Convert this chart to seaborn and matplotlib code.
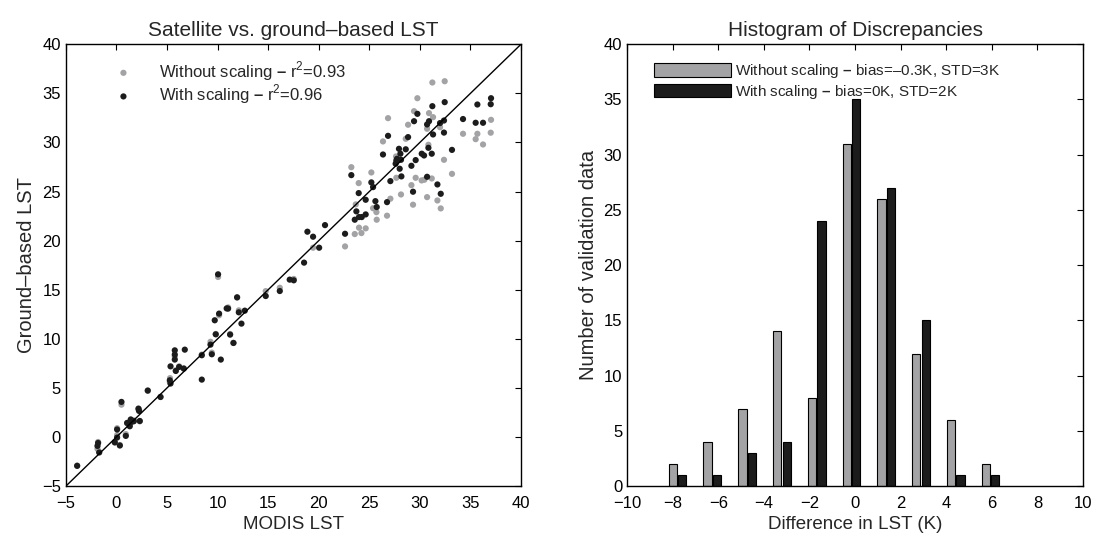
import matplotlib
matplotlib.use("Agg")
import matplotlib.pyplot as plt
import numpy as np
import pandas as pd
import seaborn as sns

# scatter: MODIS LST (x) vs ground-based LST (y)
x_with = [-3.88, -1.87, -1.81, -1.7, -0.16, 0.07, 0.07, 0.34, 0.5, 0.93, 1.06, 1.32, 1.42, 1.49,
          1.72, 2.18, 2.24, 2.31, 3.1, 4.36, 5.35, 5.28, 5.35, 5.77, 5.77, 5.77, 5.87, 6.2, 6.66,
          6.76, 8.44, 8.44, 9.3, 9.43, 9.82, 9.72, 10.15, 10.32, 11.04, 10.9, 11.24, 11.57, 12.1,
          12.36, 12.69, 10.05, 11.93, 14.76, 16.15, 17.13, 17.53, 18.55, 18.88, 19.44, 20.04,
          20.62, 22.6, 23.22, 23.56, 23.72, 23.95, 23.98, 24.25, 24.64, 24.64, 25.2, 25.37, 25.6,
          25.73, 26.35, 26.75, 26.85, 27.08, 27.6, 27.67, 27.74, 27.93, 28.0, 28.07, 28.13, 28.17,
          28.6, 28.83, 29.16, 29.42, 29.58, 29.75, 29.32, 30.18, 30.41, 30.71, 30.71, 30.84, 30.9,
          31.23, 31.17, 31.3, 31.73, 31.99, 32.06, 32.38, 32.38, 32.45, 33.17, 34.26, 35.51, 36.24,
          35.68, 37.0, 37.03]
y_with = [-2.93, -0.9, -0.6, -1.57, -0.55, -0.05, 0.77, -0.86, 3.58, 0.12, 1.44, 1.1, 1.78, 1.54,
          1.61, 2.9, 2.66, 1.64, 4.74, 4.08, 7.2, 5.78, 5.45, 8.83, 8.4, 7.89, 6.73, 7.14, 6.97,
          8.9, 8.33, 5.85, 9.41, 8.43, 10.46, 11.89, 12.57, 7.89, 13.08, 13.1, 10.43, 9.58, 12.7,
          11.55, 12.87, 16.57, 14.23, 14.36, 14.87, 16.03, 15.96, 17.76, 20.91, 20.4, 19.28,
          21.58, 20.7, 26.67, 22.13, 22.98, 24.84, 22.4, 22.4, 24.16, 22.67, 25.93, 25.45, 24.02,
          23.42, 28.77, 23.92, 30.67, 26.06, 27.83, 28.16, 28.33, 29.35, 27.32, 28.85, 28.23, 26.54,
          29.3, 30.54, 27.62, 32.16, 28.2, 32.91, 24.98, 28.85, 28.67, 26.5, 31.83, 29.45, 32.16,
          33.69, 28.85, 30.81, 25.72, 31.97, 24.77, 31.0, 32.23, 34.1, 29.24, 32.38, 32.0, 32.0,
          33.86, 33.89, 34.5]

x_without = [-3.88, -1.87, -1.81, -1.7, -0.16, 0.07, 0.07, 0.34, 0.5, 0.93, 1.06, 1.32, 1.42,
             1.72, 2.18, 2.24, 2.31, 3.1, 4.36, 5.3, 5.28, 5.77, 5.87, 6.2, 6.66, 8.44, 9.3,
             9.43, 9.82, 10.15, 11.04, 11.24, 11.57, 12.1, 10.05, 11.93, 14.76, 16.15, 17.53,
             19.44, 22.6, 23.22, 23.56, 23.66, 23.95, 23.98, 24.22, 24.64, 25.2, 25.37, 25.7,
             25.73, 26.35, 26.75, 26.85, 27.08, 27.64, 27.67, 28.13, 28.6, 28.83, 29.16, 29.32,
             29.42, 29.58, 29.75, 30.17, 30.44, 30.71, 30.71, 30.84, 30.9, 31.17, 31.23, 31.3,
             31.73, 32.06, 31.99, 32.38, 32.45, 33.17, 34.26, 35.51, 35.68, 36.24, 37.0, 37.03]
y_without = [-2.9, -1.2, -0.5, -1.5, -0.5, 0.2, 0.9, -0.8, 3.3, 0.3, 1.4, 1.2, 1.8, 1.7, 2.8,
             2.8, 1.6, 4.7, 4.1, 6.0, 5.6, 8.2, 6.8, 7.2, 7.0, 8.4, 9.7, 8.6, 10.5, 12.4, 13.2,
             10.5, 9.6, 12.9, 16.3, 14.2, 14.86, 15.2, 16.1, 19.28, 19.41, 27.48, 20.67, 23.69,
             25.86, 21.32, 20.77, 21.25, 26.94, 23.3, 22.9, 22.13, 30.1, 22.54, 32.47, 24.27,
             28.57, 26.4, 24.7, 30.37, 31.8, 25.65, 23.66, 33.18, 26.4, 34.5, 26.13, 26.2, 24.43,
             31.39, 29.76, 32.98, 26.33, 36.1, 32.57, 24.09, 23.28, 31.55, 28.23, 36.23, 26.8,
             30.88, 30.33, 30.88, 29.79, 30.99, 32.3]

label_without = "Without scaling $\\mathbf{–}$ r$^2$=0.93"
label_with = "With scaling $\\mathbf{–}$ r$^2$=0.96"

# histogram of discrepancies
bin_centers = [-7.78, -6.26, -4.73, -3.2, -1.68, -0.15, 1.37, 2.89, 4.42, 5.94]
counts_without = [2, 4, 7, 14, 8, 31, 26, 12, 6, 2]
counts_with = [1, 1, 3, 4, 24, 35, 27, 15, 1, 1]
hist_without = "Without scaling $\\mathbf{–}$ bias=–0.3K, STD=3K"
hist_with = "With scaling $\\mathbf{–}$ bias=0K, STD=2K"

GRAY = "#a3a3a5"
BLACK = "#1c1c1c"

sns.set_style("white")
plt.rcParams["font.family"] = ["Liberation Sans", "DejaVu Sans"]
plt.rcParams["mathtext.fontset"] = "custom"
plt.rcParams["mathtext.rm"] = "Liberation Sans"
plt.rcParams["mathtext.bf"] = "Liberation Sans:bold"
plt.rcParams["axes.edgecolor"] = "black"
plt.rcParams["axes.linewidth"] = 1.0

fig = plt.figure(figsize=(10.97, 5.39), dpi=100)
ax1 = fig.add_axes([0.060, 0.098, 0.415, 0.820])
ax2 = fig.add_axes([0.5716, 0.098, 0.4157, 0.820])

# left: scatter
sns.scatterplot(x=x_without, y=y_without, color=GRAY, s=20, edgecolor="none",
                label=label_without, ax=ax1)
sns.scatterplot(x=x_with, y=y_with, color=BLACK, s=20, edgecolor="none",
                label=label_with, ax=ax1)
ax1.plot([-5, 40], [-5, 40], color="black", linewidth=1.0)
ax1.set_xlim(-5, 40)
ax1.set_ylim(-5, 40)
ax1.set_xticks(np.arange(-5, 41, 5))
ax1.set_yticks(np.arange(-5, 41, 5))
ax1.set_xlabel("MODIS LST", fontsize=13.5)
ax1.set_ylabel("Ground–based LST", fontsize=14.5)
ax1.set_title("Satellite vs. ground–based LST", fontsize=15)
ax1.legend(loc="upper left", bbox_to_anchor=(0.057, 1.0), frameon=False, fontsize=12,
           handletextpad=1.15, labelspacing=0.0, markerscale=1.0)

# right: grouped bars
df = pd.DataFrame({
    "center": bin_centers * 2,
    "count": counts_without + counts_with,
    "series": [hist_without] * len(bin_centers) + [hist_with] * len(bin_centers),
})
sns.barplot(data=df, x="center", y="count", hue="series", native_scale=True,
            hue_order=[hist_without, hist_with], palette=[GRAY, BLACK],
            width=0.545, gap=0.13, errorbar=None, edgecolor="black", linewidth=0.8,
            ax=ax2)
ax2.set_xlim(-10, 10)
ax2.set_ylim(0, 40)
ax2.set_xticks(np.arange(-10, 11, 2))
ax2.set_yticks(np.arange(0, 41, 5))
ax2.set_xlabel("Difference in LST (K)", fontsize=13.5)
ax2.set_ylabel("Number of validation data", fontsize=14.5)
ax2.set_title("Histogram of Discrepancies", fontsize=15)
handles, labels = ax2.get_legend_handles_labels()
ax2.legend(handles, labels, loc="upper left", bbox_to_anchor=(0.03, 0.99), frameon=False,
           fontsize=11, handlelength=5.0, handleheight=1.0, handletextpad=0.3,
           labelspacing=0.15)

for ax in (ax1, ax2):
    ax.tick_params(direction="in", top=True, right=True, length=4, labelsize=12,
                   colors="black")
    ax.tick_params(axis="x", pad=7)
    for sp in ax.spines.values():
        sp.set_visible(True)

fig.savefig("out.png", dpi=100)
